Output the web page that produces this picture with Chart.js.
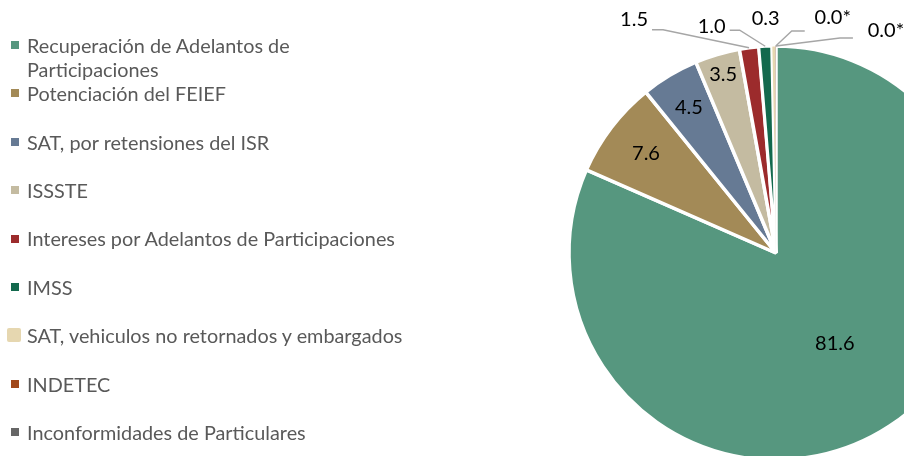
<!DOCTYPE html>
<html><head><meta charset="utf-8">
<script src="https://cdn.jsdelivr.net/npm/chart.js@4/dist/chart.umd.min.js"></script>
<style>
html,body{margin:0;padding:0;background:#fff;overflow:hidden;}
#wrap{position:relative;width:904px;height:456px;overflow:hidden;background:#fff;}
#c{position:absolute;left:0;top:0;}
#legend{position:absolute;left:0;top:0;width:480px;height:456px;font-family:Lato,"Liberation Sans",sans-serif;color:#595959;}
.item{position:absolute;left:27px;white-space:nowrap;line-height:24.5px;}
.sw{position:absolute;}
</style></head>
<body><div id="wrap"><canvas id="c" width="1552" height="506"></canvas><div id="legend"></div></div>
<script>
// ---- data ----
const categories = [
  ['Recuperación de Adelantos de', 'Participaciones'],
  'Potenciación del FEIEF',
  'SAT, por retensiones del ISR',
  'ISSSTE',
  'Intereses por Adelantos de Participaciones',
  'IMSS',
  'SAT, vehiculos no retornados y embargados',
  'INDETEC',
  'Inconformidades de Particulares'
];
const shares = [81.6, 7.6, 4.5, 3.5, 1.5, 1.0, 0.3, 0.02, 0.01];
const colors = ['#56977F', '#A38A57', '#667A94', '#C4BBA1', '#9C2B2C', '#13694D', '#E6D7B0', '#A0481A', '#666666'];

// ---- label placement (style) ----
const placement = [
  {r: 0.52},
  {r: 0.79},
  {r: 0.82},
  {r: 0.90},
  {elbow: [-86, -18], end: [-97, -18], text: [-115, -28]},
  {elbow: [-25.5, -16], end: [-35.5, -16], text: [-53.5, -20]},
  {text: [-8, -27]},
  {elbow: [16, -15], end: [29, -15], text: [57, -28]},
  {elbow: [64, -8], end: [77, -8], text: [110, -15]}
];

function fmt(v) {
  return v < 0.05 ? v.toFixed(1) + '*' : v.toFixed(1);
}

// ---- legend (HTML) ----
const mctx = document.createElement('canvas').getContext('2d');
mctx.font = '100px Lato';
const refW = mctx.measureText('Intereses por Adelantos de Participaciones').width;
const legendFont = 100 * 369 / refW;
const legend = document.getElementById('legend');
legend.style.fontSize = legendFont.toFixed(2) + 'px';
const firstY = 45, stepY = 48.4;
categories.forEach((lab, i) => {
  const cy = firstY + i * stepY;
  const it = document.createElement('div');
  it.className = 'item';
  it.style.top = (cy - 12.25) + 'px';
  it.innerHTML = Array.isArray(lab) ? lab.join('<br>') : lab;
  legend.appendChild(it);
  const sw = document.createElement('div');
  sw.className = 'sw';
  const big = i === 6;
  const s = big ? 14 : 8;
  const cx = big ? 14 : 15;
  sw.style.left = (cx - s / 2) + 'px';
  sw.style.top = (cy - s / 2 + (big ? -0.5 : 0)) + 'px';
  sw.style.width = s + 'px';
  sw.style.height = s + 'px';
  sw.style.background = colors[i];
  if (big) sw.style.borderRadius = '2px';
  legend.appendChild(sw);
});

// ---- slice labels plugin ----
const sliceLabels = {
  id: 'sliceLabels',
  afterDatasetsDraw(chart) {
    const ctx = chart.ctx;
    const meta = chart.getDatasetMeta(0);
    meta.data.forEach((arc, i) => {
      const p = arc.getProps(['x', 'y', 'startAngle', 'endAngle', 'outerRadius'], true);
      const mid = (p.startAngle + p.endAngle) / 2;
      const spec = placement[i];
      const txt = fmt(shares[i]);
      ctx.save();
      ctx.font = '20px Lato';
      ctx.fillStyle = '#000000';
      ctx.textAlign = 'center';
      ctx.textBaseline = 'middle';
      if (spec.r !== undefined) {
        const d = p.outerRadius * spec.r;
        ctx.fillText(txt, p.x + Math.cos(mid) * d, p.y + Math.sin(mid) * d);
      } else {
        const ax = p.x + Math.cos(mid) * p.outerRadius;
        const ay = p.y + Math.sin(mid) * p.outerRadius;
        if (spec.elbow) {
          ctx.strokeStyle = '#A6A6A6';
          ctx.lineWidth = 1.4;
          ctx.beginPath();
          ctx.moveTo(ax, ay);
          ctx.lineTo(ax + spec.elbow[0], ay + spec.elbow[1]);
          ctx.lineTo(ax + spec.end[0], ay + spec.end[1]);
          ctx.stroke();
        }
        ctx.fillText(txt, ax + spec.text[0], ay + spec.text[1]);
      }
      ctx.restore();
    });
  }
};

new Chart(document.getElementById('c'), {
  type: 'pie',
  data: {
    labels: categories,
    datasets: [{
      data: shares,
      backgroundColor: colors,
      borderColor: '#FFFFFF',
      borderWidth: [3.5, 3.5, 3.5, 3.5, 3.5, 3, 1.2, 0, 0]
    }]
  },
  options: {
    responsive: false,
    animation: false,
    events: [],
    radius: 207,
    layout: {padding: 0},
    plugins: {
      legend: {display: false},
      tooltip: {enabled: false}
    }
  },
  plugins: [sliceLabels]
});
</script>
</body></html>
